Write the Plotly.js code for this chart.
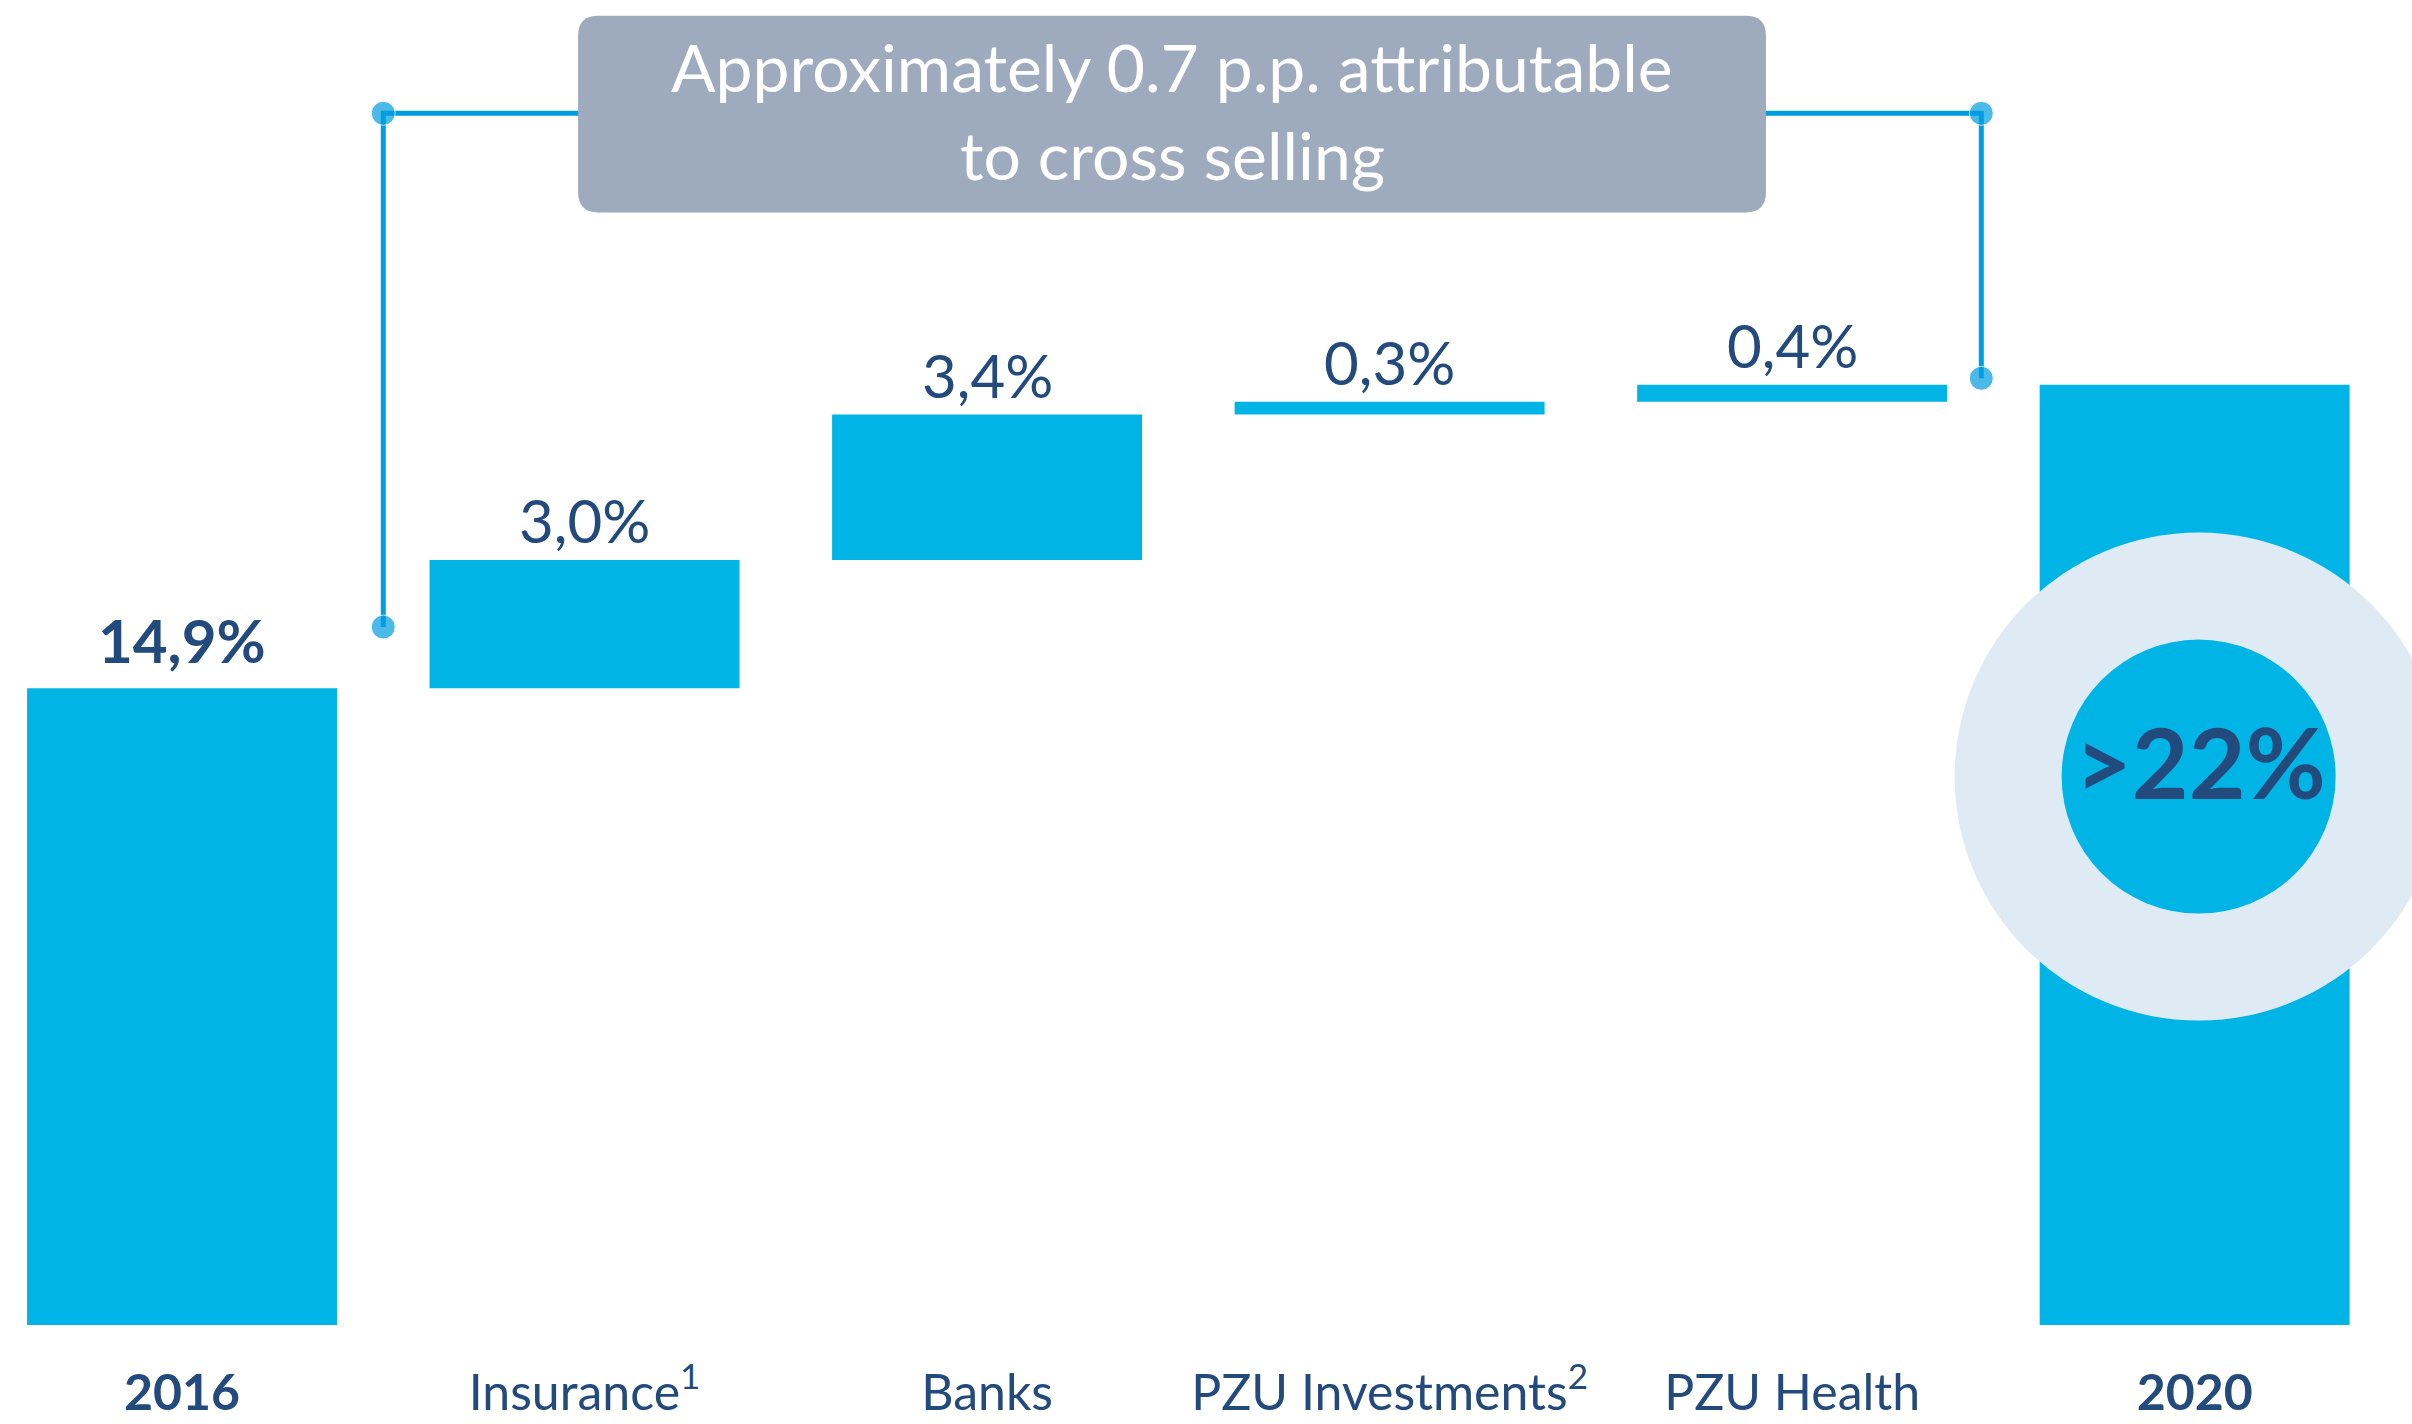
<!DOCTYPE html>
<html>
<head>
<meta charset="utf-8">
<script src="https://cdn.plot.ly/plotly-3.0.1.min.js"></script>
<style>
  html, body { margin: 0; padding: 0; background: #ffffff; }
  #chart { width: 2412px; height: 1424px; }
</style>
</head>
<body>
<div id="chart"></div>
<script>
// Chart data
const categories = ['2016', 'Insurance', 'Banks', 'PZU Investments', 'PZU Health', '2020'];
const tickLabels = ['<b>2016</b>', 'Insurance<sup>1</sup>', 'Banks', 'PZU Investments<sup>2</sup>', 'PZU Health', '<b>2020</b>'];
const measures = ['absolute', 'relative', 'relative', 'relative', 'relative', 'total'];
const values = [14.9, 3.0, 3.4, 0.3, 0.4, 0];
const valueLabels = ['14,9%', '3,0%', '3,4%', '0,3%', '0,4%'];
const totalLabel = '>22%';
const boxLines = ['Approximately 0.7 p.p. attributable', 'to cross selling'];

const BLUE = '#00b5e6';
const NAVY = '#234a7c';
const LINE = '#009ee0';
const FONT = 'Lato, "Open Sans", sans-serif';

const xIdx = categories.map((_, i) => i);

// running tops of the waterfall steps
const tops = [];
let run = 0;
values.forEach((v, i) => {
  if (measures[i] === 'absolute') run = v;
  else if (measures[i] === 'relative') run += v;
  tops.push(run);
});

function drawChart() {
  const waterfall = {
    type: 'waterfall',
    x: xIdx,
    y: values,
    measure: measures,
    increasing: { marker: { color: BLUE } },
    decreasing: { marker: { color: BLUE } },
    totals: { marker: { color: BLUE } },
    connector: { visible: false },
    textinfo: 'none',
    hoverinfo: 'skip',
  };

  // bracket from before the first step to the top of the last step
  const startTop = tops[0];
  const endTop = tops[tops.length - 1];
  const bracketY = 28.35;
  const leftBracket = {
    type: 'scatter',
    mode: 'lines+markers',
    x: [0.5, 0.5, 1.3],
    y: [startTop + 1.43, bracketY, bracketY],
    line: { color: LINE, width: 5 },
    marker: { color: LINE, size: [24, 24, 0] },
    hoverinfo: 'skip',
  };
  const rightBracket = {
    type: 'scatter',
    mode: 'lines+markers',
    x: [3.6, 4.47, 4.47],
    y: [bracketY, bracketY, endTop + 0.15],
    line: { color: LINE, width: 5 },
    marker: { color: LINE, size: [0, 24, 24] },
    hoverinfo: 'skip',
  };

  const annotations = valueLabels.map((t, i) => ({
    x: xIdx[i],
    y: tops[i],
    yanchor: 'bottom',
    yshift: i === 0 ? 10 : 2,
    text: i === 0 ? '<b>' + t + '</b>' : t,
    showarrow: false,
    font: { family: FONT, size: 60, color: NAVY },
  }));

  annotations.push({
    x: 5, xshift: 6,
    y: 12.83, yshift: 16,
    text: '<b>' + totalLabel + '</b>',
    showarrow: false,
    font: { family: FONT, size: 98, color: NAVY },
  });

  annotations.push({
    x: 2.46, y: 29.45, yanchor: 'middle',
    text: boxLines[0], showarrow: false,
    font: { family: FONT, size: 66, color: '#ffffff' },
  });
  annotations.push({
    x: 2.46, y: 27.38, yanchor: 'middle',
    text: boxLines[1], showarrow: false,
    font: { family: FONT, size: 66, color: '#ffffff' },
  });

  // rounded callout box
  const bx0 = 0.984, bx1 = 3.935, by0 = 26.03, by1 = 30.63;
  const rx = 0.05, ry = 0.47;
  const boxPath =
    `M ${bx0 + rx},${by1} L ${bx1 - rx},${by1} Q ${bx1},${by1} ${bx1},${by1 - ry} ` +
    `L ${bx1},${by0 + ry} Q ${bx1},${by0} ${bx1 - rx},${by0} ` +
    `L ${bx0 + rx},${by0} Q ${bx0},${by0} ${bx0},${by0 + ry} ` +
    `L ${bx0},${by1 - ry} Q ${bx0},${by1} ${bx0 + rx},${by1} Z`;

  const shapes = [
    { type: 'path', xref: 'x', yref: 'y', path: boxPath, fillcolor: '#9eaabd', line: { width: 0 }, layer: 'above' },
    { type: 'circle', xref: 'x', yref: 'y', xsizemode: 'pixel', ysizemode: 'pixel',
      xanchor: 5, yanchor: 12.83, x0: -240, x1: 248, y0: -244, y1: 244,
      fillcolor: '#dfebf4', line: { width: 0 }, layer: 'above' },
    { type: 'circle', xref: 'x', yref: 'y', xsizemode: 'pixel', ysizemode: 'pixel',
      xanchor: 5, yanchor: 12.83, x0: -133, x1: 141, y0: -137, y1: 137,
      fillcolor: BLUE, line: { width: 0 }, layer: 'above' },
  ];

  const layout = {
    width: 2412,
    height: 1424,
    margin: { l: 0, r: 0, t: 0, b: 99 },
    paper_bgcolor: '#ffffff',
    plot_bgcolor: '#ffffff',
    showlegend: false,
    waterfallgap: 0.23,
    font: { family: FONT, color: NAVY },
    xaxis: {
      type: 'linear',
      range: [-0.4522, 5.540],
      tickvals: xIdx,
      ticktext: tickLabels,
      tickfont: { family: FONT, size: 50, color: NAVY },
      ticks: '',
      ticklabelstandoff: 34,
      showgrid: false,
      zeroline: false,
      showline: false,
    },
    yaxis: {
      range: [0, 31],
      visible: false,
      showgrid: false,
      zeroline: false,
    },
    shapes: shapes,
    annotations: annotations,
  };

  Plotly.newPlot('chart', [waterfall, leftBracket, rightBracket], layout, { staticPlot: true });
}

document.addEventListener('DOMContentLoaded', drawChart);
</script>
</body>
</html>
